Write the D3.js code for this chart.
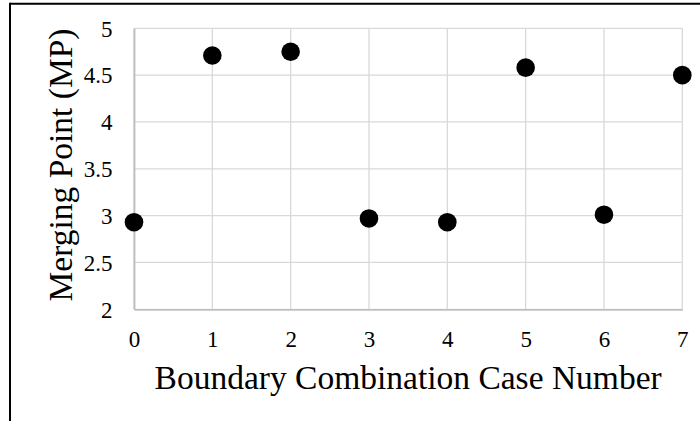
<!DOCTYPE html>
<html>
<head>
<meta charset="utf-8">
<script src="https://cdn.jsdelivr.net/npm/d3@7"></script>
<style>
  html, body { margin: 0; padding: 0; background: #fff; }
  svg { display: block; }
  text { font-family: "Liberation Serif", "Times New Roman", serif; fill: #000; }
</style>
</head>
<body>
<svg id="chart" width="700" height="421"></svg>
<script>
// Merging point for each boundary combination case
const caseNumbers = [0, 1, 2, 3, 4, 5, 6, 7];
const mergingPoints = [2.93, 4.71, 4.75, 2.97, 2.93, 4.58, 3.01, 4.50];
const xTicks = [0, 1, 2, 3, 4, 5, 6, 7];
const yTicks = [2, 2.5, 3, 3.5, 4, 4.5, 5];
const xTitle = "Boundary Combination Case Number";
const yTitle = "Merging Point (MP)";

const svg = d3.select("#chart");
const W = 700, H = 421;

// frame lines along the top and left edge
svg.append("line").attr("x1", 10).attr("x2", W).attr("y1", 3.7).attr("y2", 3.7)
  .attr("stroke", "#000").attr("stroke-width", 2);
svg.append("line").attr("x1", 10).attr("x2", 10).attr("y1", 2.7).attr("y2", H)
  .attr("stroke", "#000").attr("stroke-width", 2);

const plot = { left: 134, right: 682.3, top: 28.3, bottom: 309.3 };
const x = d3.scaleLinear().domain([0, 7]).range([plot.left, plot.right]);
const y = d3.scaleLinear().domain([2, 5]).range([plot.bottom, plot.top]);

// gridlines
const grid = svg.append("g");
grid.selectAll("line.h").data(yTicks).join("line")
  .attr("class", "h")
  .attr("x1", plot.left).attr("x2", plot.right)
  .attr("y1", d => y(d)).attr("y2", d => y(d))
  .attr("stroke", "#d9d9d9").attr("stroke-width", 1.3);
grid.selectAll("line.v").data(xTicks).join("line")
  .attr("class", "v")
  .attr("y1", plot.top).attr("y2", plot.bottom)
  .attr("x1", d => x(d)).attr("x2", d => x(d))
  .attr("stroke", "#d9d9d9").attr("stroke-width", 1.3);

// axes
const xAxis = d3.axisBottom(x).tickValues(xTicks).tickFormat(d3.format("d")).tickSize(0).tickPadding(22);
const yAxis = d3.axisLeft(y).tickValues(yTicks).tickFormat(d => String(d)).tickSize(0).tickPadding(21.5);

const gx = svg.append("g").attr("transform", `translate(0,${plot.bottom})`).call(xAxis);
const gy = svg.append("g").attr("transform", `translate(${plot.left},0)`).call(yAxis);
[gx, gy].forEach(g => {
  g.attr("font-size", null).attr("font-family", null);
  g.select(".domain").attr("stroke", "#bfbfbf").attr("stroke-width", 1.8);
  g.selectAll("text").style("font-family", "'Liberation Serif', 'Times New Roman', serif")
    .style("font-size", "23px").attr("fill", "#000");
});
gx.selectAll("text").attr("dy", "0").attr("y", 37.6);
gy.selectAll("text").attr("dy", "0.34em");

// markers
svg.append("g").selectAll("circle").data(caseNumbers).join("circle")
  .attr("cx", d => x(d))
  .attr("cy", (d, i) => y(mergingPoints[i]))
  .attr("r", 9.3)
  .attr("fill", "#000");

// axis titles
svg.append("text")
  .attr("x", (plot.left + plot.right) / 2).attr("y", 389)
  .attr("text-anchor", "middle")
  .style("font-size", "33.5px")
  .text(xTitle);

svg.append("text")
  .attr("transform", "translate(72,165) rotate(-90)")
  .attr("text-anchor", "middle")
  .style("font-size", "33.5px")
  .text(yTitle);
</script>
</body>
</html>
